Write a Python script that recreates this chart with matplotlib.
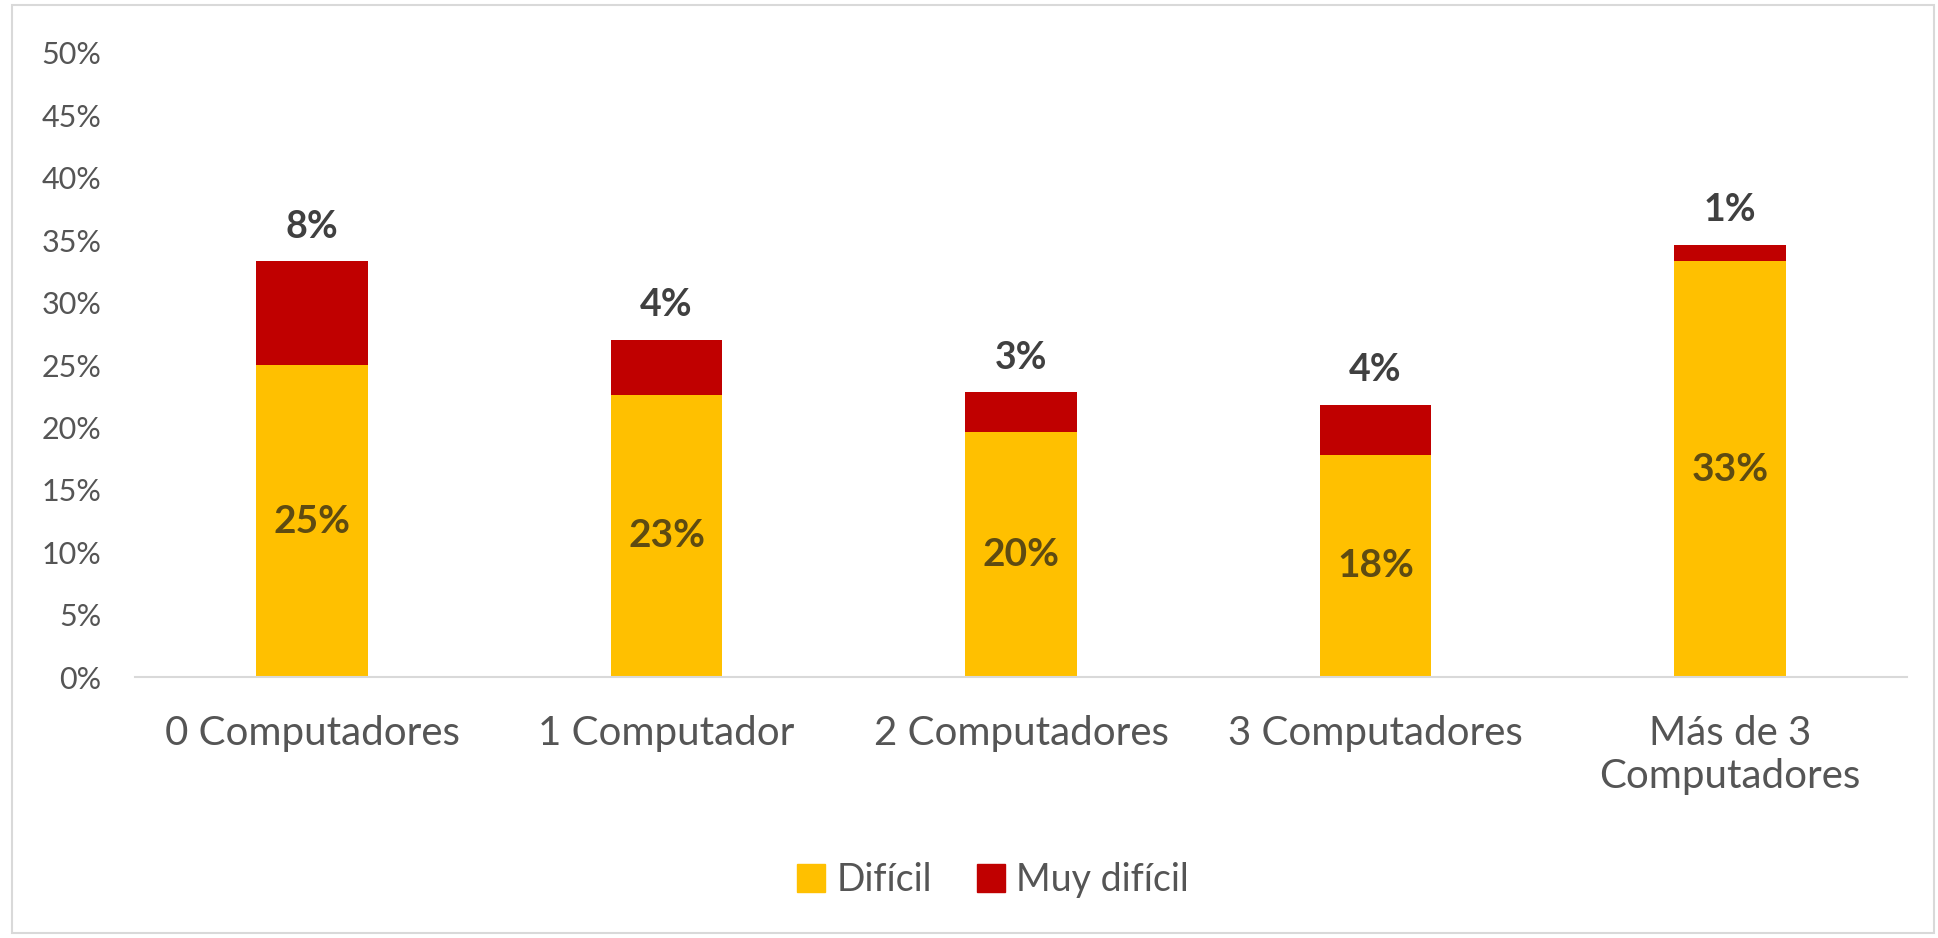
import matplotlib
matplotlib.use("Agg")
import matplotlib.pyplot as plt
from matplotlib.patches import Rectangle, Patch

categories = ["0 Computadores", "1 Computador", "2 Computadores", "3 Computadores", "Más de 3\nComputadores"]
dificil = [0.250, 0.226, 0.196, 0.178, 0.333]
muy_dificil = [0.083, 0.044, 0.032, 0.040, 0.013]
yticks = [0, 0.05, 0.10, 0.15, 0.20, 0.25, 0.30, 0.35, 0.40, 0.45, 0.50]
series_names = ["Difícil", "Muy difícil"]

YELLOW = "#FFC000"
RED = "#C00000"
GRAY = "#555555"

plt.rcParams['font.family'] = ['Lato', 'DejaVu Sans']

W, H = 1938, 938
fig = plt.figure(figsize=(W / 100, H / 100), dpi=100)
ax = fig.add_axes([135 / W, 1 - 677 / H, (1907 - 135) / W, (677 - 53) / H])

x = list(range(len(categories)))
width = 0.315
ax.bar(x, dificil, width, color=YELLOW, label=series_names[0])
ax.bar(x, muy_dificil, width, bottom=dificil, color=RED, label=series_names[1])

for xi, d, m in zip(x, dificil, muy_dificil):
    ax.text(xi, d / 2, f"{round(d * 100):.0f}%", ha="center", va="center",
            fontsize=28, fontweight="bold", color="#5E4B12")
    ax.annotate(f"{round(m * 100):.0f}%", xy=(xi, d + m), xytext=(0, 25),
                textcoords="offset points", ha="center", va="center",
                fontsize=27, fontweight="bold", color="#404040")

ax.set_xlim(-0.5, len(categories) - 0.5)
ax.set_ylim(0, 0.5)
ax.set_yticks(yticks)
ax.set_yticklabels([f"{int(round(t * 100))}%" for t in yticks])
ax.set_xticks(x)
ax.set_xticklabels(categories, linespacing=1.2)

for s in ["top", "right", "left"]:
    ax.spines[s].set_visible(False)
ax.spines["bottom"].set_color("#D9D9D9")
ax.spines["bottom"].set_linewidth(1.5)
ax.tick_params(axis="y", length=0, pad=24, labelsize=22, labelcolor=GRAY)
ax.tick_params(axis="x", length=0, pad=27, labelsize=29, labelcolor=GRAY)
for lbl in ax.get_xticklabels():
    lbl.set_verticalalignment("top")

handles = [Patch(color=YELLOW), Patch(color=RED)]
fig.legend(handles, series_names, loc="center", bbox_to_anchor=(993 / W, 1 - 880 / H),
           ncol=2, frameon=False, fontsize=27, labelcolor=GRAY,
           handlelength=0.75, handleheight=0.75, handletextpad=0.3, columnspacing=1.2)

fig.patches.append(Rectangle((12 / W, 5 / H), (1934 - 12) / W, (933 - 5) / H,
                             transform=fig.transFigure, fill=False,
                             edgecolor="#D9D9D9", linewidth=1.5))

fig.savefig("out.png", dpi=100, facecolor="white")
